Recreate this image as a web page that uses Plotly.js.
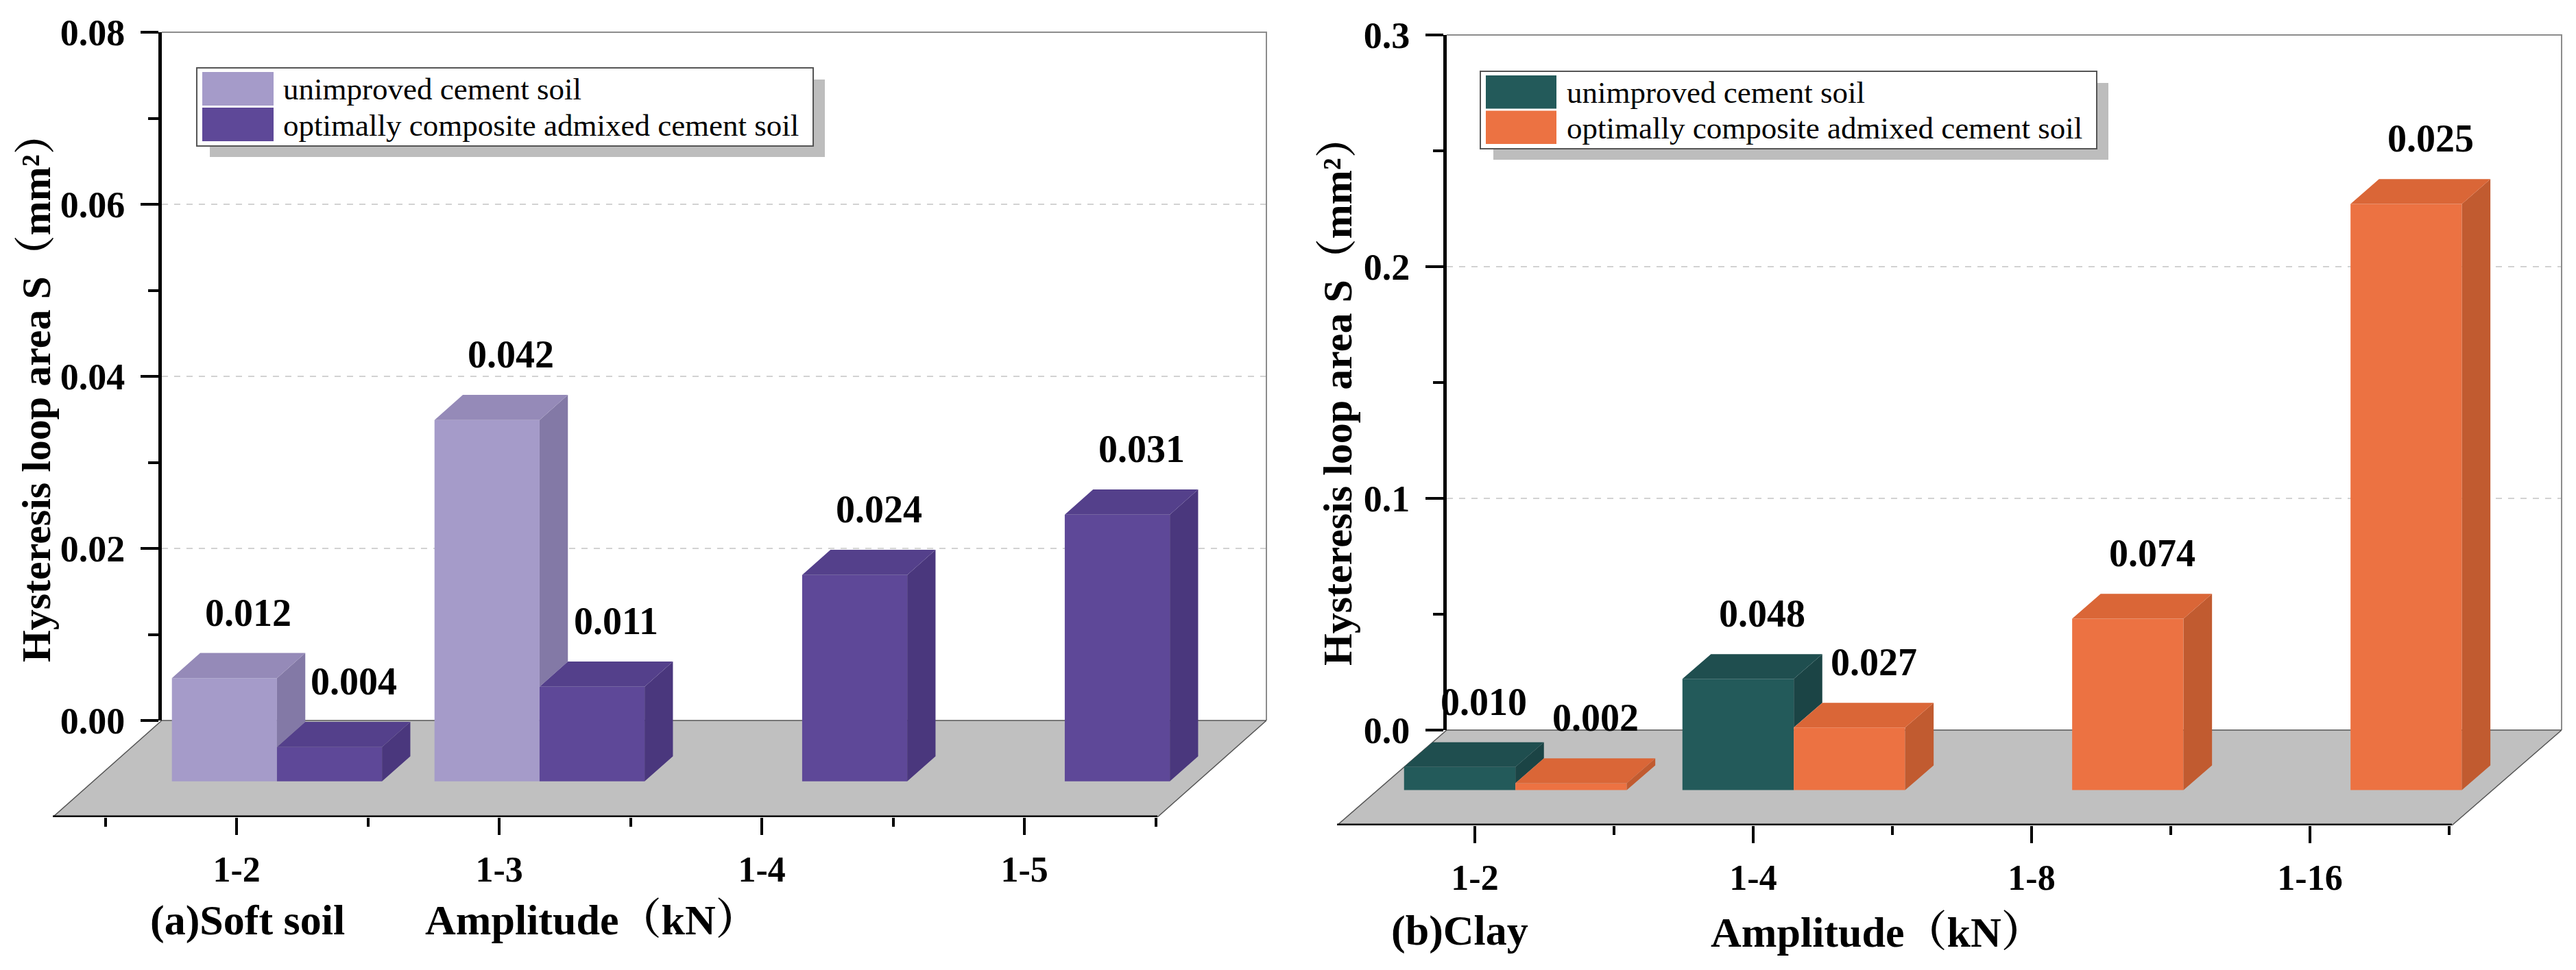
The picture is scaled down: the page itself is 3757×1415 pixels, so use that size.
<!DOCTYPE html>
<html><head><meta charset="utf-8">
<script src="https://cdn.plot.ly/plotly-3.0.1.min.js"></script>
<style>html,body{margin:0;padding:0;background:#fff}</style>
</head><body><div id="chart" style="width:3757px;height:1415px"></div>
<script>
// ---------------- data ----------------
const categoriesA = ['1-2', '1-3', '1-4', '1-5'];
const unimprovedA = [0.012, 0.042, null, null];
const optimalA = [0.004, 0.011, 0.024, 0.031];
const labelsUnimprovedA = ['0.012', '0.042', null, null];
const labelsOptimalA = ['0.004', '0.011', '0.024', '0.031'];

const categoriesB = ['1-2', '1-4', '1-8', '1-16'];
const unimprovedB = [0.010, 0.048, null, null];
const optimalB = [0.003, 0.027, 0.074, 0.253];
const labelsUnimprovedB = ['0.010', '0.048', null, null];
const labelsOptimalB = ['0.002', '0.027', '0.074', '0.025'];

const seriesNames = ['unimproved cement soil', 'optimally composite admixed cement soil'];
const yTickValsA = [0, 0.02, 0.04, 0.06, 0.08];
const yTickTextA = ['0.00', '0.02', '0.04', '0.06', '0.08'];
const yTickValsB = [0, 0.1, 0.2, 0.3];
const yTickTextB = ['0.0', '0.1', '0.2', '0.3'];
const panelTitles = ['(a)Soft soil', '(b)Clay'];
const xTitle = 'Amplitude（kN）';
const yTitle = 'Hysteresis loop area S（mm²）';

// ---------------- layout helpers ----------------
const W = 3757, H = 1415;
const FONT = '"Liberation Serif", "Times New Roman", "Noto Serif CJK SC", "Noto Sans CJK SC", serif';
const px = p => p / W, py = p => 1 - p / H;
const F0 = 0.37, F1 = 0.63, BARW = 0.4;

const panels = [
  {
    cats: categoriesA, vals: [unimprovedA, optimalA], labels: [labelsUnimprovedA, labelsOptimalA],
    yTickVals: yTickValsA, yTickText: yTickTextA, yMinor: 0.01, yMax: 0.08,
    colors: [{front: '#A59BC9', top: '#958AB8', side: '#8379A6'},
             {front: '#5E4898', top: '#54408B', side: '#4A377D'}],
    ax: ['x', 'y', 'x2', 'y2'], axn: ['xaxis', 'yaxis', 'xaxis2', 'yaxis2'],
    pxLeft: 77, pxRight: 1847, pxTop: 47, pxFront: 1192, pxBack: 1051, unitPx: 383,
    xLeft: -0.70, depthX: 0.415,
    legend: {x0: 287, x1: 1186, y0: 99, y1: 213, sw0: 295, sw1: 399, textX: 411},
    ytitle: {x: 53, y: 566}, plabel: {x: 361, y: 1342}, xtitle: {x: 863, y: 1342}
  },
  {
    cats: categoriesB, vals: [unimprovedB, optimalB], labels: [labelsUnimprovedB, labelsOptimalB],
    yTickVals: yTickValsB, yTickText: yTickTextB, yMinor: 0.05, yMax: 0.3,
    colors: [{front: '#235A5A', top: '#1F4E4F', side: '#1B4445'},
             {front: '#EC7242', top: '#DA6637', side: '#C15B30'}],
    ax: ['x3', 'y3', 'x4', 'y4'], axn: ['xaxis3', 'yaxis3', 'xaxis4', 'yaxis4'],
    pxLeft: 1950, pxRight: 3736, pxTop: 51, pxFront: 1204, pxBack: 1065, unitPx: 406,
    xLeft: -0.495, depthX: 0.394,
    legend: {x0: 2159, x1: 3058, y0: 104, y1: 217, sw0: 2167, sw1: 2270, textX: 2283},
    ytitle: {x: 1951, y: 571}, plabel: {x: 2129, y: 1357}, xtitle: {x: 2738, y: 1360}
  }
];

const traces = [], shapes = [], annotations = [];
const layout = {
  width: W, height: H, margin: {l: 0, r: 0, t: 0, b: 0},
  paper_bgcolor: '#ffffff', plot_bgcolor: 'rgba(0,0,0,0)',
  showlegend: false, barmode: 'overlay', font: {family: FONT, color: '#000'}
};

panels.forEach((P, pi) => {
  const [xa, ya, xa2, ya2] = P.ax;
  const [xn, yn, xn2, yn2] = P.axn;
  const DX = P.depthX;
  const DY = P.yMax * (P.pxFront - P.pxBack) / (P.pxBack - P.pxTop);
  const xRight = P.xLeft + (P.pxRight - P.pxLeft) / P.unitPx;
  const xFrontRight = xRight - DX;
  const pxBackLeft = P.pxLeft + DX * P.unitPx;
  const ddx = (F1 - F0) * DX, ddy = (F1 - F0) * DY;
  const base = -(1 - F0) * DY;
  const idx = P.cats.map((c, i) => i);

  layout[xn] = {
    domain: [px(P.pxLeft), px(P.pxRight)], range: [P.xLeft, xRight], anchor: ya,
    showline: false, showgrid: false, zeroline: false,
    tickmode: 'array', tickvals: idx, ticktext: P.cats,
    ticks: 'outside', ticklen: 25, tickwidth: 4, tickcolor: '#000',
    tickfont: {family: FONT, size: 52, color: '#000', weight: 'bold'}, ticklabelstandoff: 6,
    minor: {ticks: 'outside', ticklen: 13, tickwidth: 4, tickcolor: '#000', tickmode: 'linear', tick0: -0.5, dtick: 1, showgrid: false}
  };
  layout[yn] = {domain: [py(P.pxFront), py(P.pxTop)], range: [-DY, P.yMax], anchor: xa, visible: false};
  layout[xn2] = {domain: [px(pxBackLeft), px(P.pxRight)], range: [0, 1], anchor: ya2, visible: false};
  layout[yn2] = {
    domain: [py(P.pxBack), py(P.pxTop)], range: [0, P.yMax], anchor: xa2, side: 'left',
    showline: true, linecolor: '#000', linewidth: 5, showgrid: false, zeroline: false,
    tickmode: 'array', tickvals: P.yTickVals, ticktext: P.yTickText,
    ticks: 'outside', ticklen: 26, tickwidth: 4, tickcolor: '#000',
    tickfont: {family: FONT, size: 54, color: '#000', weight: 'bold'}, ticklabelstandoff: 12,
    minor: {ticks: 'outside', ticklen: 15, tickwidth: 4, tickcolor: '#000', tickmode: 'linear', tick0: P.yMinor, dtick: 2 * P.yMinor, showgrid: false}
  };

  // back plane grid + frame
  P.yTickVals.filter(v => v > 0 && v < P.yMax).forEach(v => {
    shapes.push({type: 'line', xref: 'paper', yref: ya2, x0: px(pxBackLeft), x1: px(P.pxRight), y0: v, y1: v,
      line: {color: '#d2d2d2', width: 2, dash: 'dash'}, layer: 'below'});
  });
  shapes.push({type: 'path', xref: 'paper', yref: 'paper', layer: 'below',
    path: `M ${px(pxBackLeft)},${py(P.pxTop)} L ${px(P.pxRight)},${py(P.pxTop)} L ${px(P.pxRight)},${py(P.pxBack)}`,
    line: {color: '#8c8c8c', width: 2}});
  // floor
  shapes.push({type: 'path', xref: xa, yref: ya, layer: 'below',
    path: `M ${P.xLeft},${-DY} L ${xFrontRight},${-DY} L ${xRight},0 L ${P.xLeft + DX},0 Z`,
    fillcolor: '#c0c0c0', line: {color: '#555555', width: 1.5}});
  // x axis line on floor front edge
  shapes.push({type: 'line', xref: xa, yref: ya, x0: P.xLeft, x1: xFrontRight, y0: -DY, y1: -DY,
    line: {color: '#000', width: 5}, layer: 'above'});

  // bars (front faces) + 3D top / side faces
  [0, 1].forEach(s => {
    const vals = P.vals[s];
    traces.push({type: 'bar', x: idx.map(i => i + F0 * DX), y: vals, base: base,
      width: BARW, offset: s === 0 ? -BARW : 0, name: seriesNames[s],
      marker: {color: P.colors[s].front, line: {width: 0}},
      xaxis: xa, yaxis: ya, hoverinfo: 'skip', showlegend: false});
    const topX = [], topY = [], sideX = [], sideY = [];
    vals.forEach((v, i) => {
      if (v === null || v === undefined) return;
      const xL = i + F0 * DX + (s === 0 ? -BARW : 0), xR = xL + BARW;
      const t = base + v;
      const nb = s === 0 ? P.vals[1][i] : null;
      const nbTop = (nb !== null && nb !== undefined) ? base + nb : null;
      if (nbTop !== null && nbTop >= t) {
        topX.push(xL, xR, xR, xL + ddx, xL, null);
        topY.push(t, t, t + ddy, t + ddy, t, null);
      } else {
        topX.push(xL, xR, xR + ddx, xL + ddx, xL, null);
        topY.push(t, t, t + ddy, t + ddy, t, null);
        const b = nbTop !== null ? Math.max(base, nbTop) : base;
        sideX.push(xR, xR, xR + ddx, xR + ddx, xR, null);
        sideY.push(b, t, t + ddy, b + ddy, b, null);
      }
      const lab = P.labels[s][i];
      if (lab) {
        annotations.push({xref: xa, yref: ya, x: (xL + xR) / 2 + 0.85 * ddx, y: t + ddy,
          xanchor: 'center', yanchor: 'bottom', yshift: 26, showarrow: false, text: lab,
          font: {family: FONT, size: 56, color: '#000', weight: 'bold'}});
      }
    });
    traces.push({type: 'scatter', mode: 'lines', x: sideX, y: sideY, fill: 'toself',
      fillcolor: P.colors[s].side, line: {width: 0, color: P.colors[s].side},
      xaxis: xa, yaxis: ya, hoverinfo: 'skip', showlegend: false});
    traces.push({type: 'scatter', mode: 'lines', x: topX, y: topY, fill: 'toself',
      fillcolor: P.colors[s].top, line: {width: 0, color: P.colors[s].top},
      xaxis: xa, yaxis: ya, hoverinfo: 'skip', showlegend: false});
  });

  // legend (box with shadow)
  const L = P.legend;
  shapes.push({type: 'rect', xref: 'paper', yref: 'paper', layer: 'above',
    x0: px(L.x0 + 19), x1: px(L.x1 + 17), y0: py(L.y0 + 17), y1: py(L.y1 + 16),
    fillcolor: '#bdbdbd', line: {width: 0}});
  shapes.push({type: 'rect', xref: 'paper', yref: 'paper', layer: 'above',
    x0: px(L.x0), x1: px(L.x1), y0: py(L.y0), y1: py(L.y1),
    fillcolor: '#ffffff', line: {color: '#555555', width: 2}});
  const rowH = (L.y1 - L.y0 - 12) / 2;
  [0, 1].forEach(s => {
    const r0 = L.y0 + 6 + s * (rowH + 1);
    shapes.push({type: 'rect', xref: 'paper', yref: 'paper', layer: 'above',
      x0: px(L.sw0), x1: px(L.sw1), y0: py(r0), y1: py(r0 + rowH - 2),
      fillcolor: P.colors[s].front, line: {width: 0}});
    annotations.push({xref: 'paper', yref: 'paper', x: px(L.textX), y: py(r0 + rowH / 2),
      xanchor: 'left', yanchor: 'middle', showarrow: false, text: seriesNames[s],
      font: {family: FONT, size: 45, color: '#000'}});
  });

  // titles
  annotations.push({xref: 'paper', yref: 'paper', x: px(P.ytitle.x), y: py(P.ytitle.y),
    xanchor: 'center', yanchor: 'middle', textangle: -90, showarrow: false, text: yTitle,
    font: {family: FONT, size: 60, color: '#000', weight: 'bold'}});
  annotations.push({xref: 'paper', yref: 'paper', x: px(P.plabel.x), y: py(P.plabel.y),
    xanchor: 'center', yanchor: 'middle', showarrow: false, text: panelTitles[pi],
    font: {family: FONT, size: 62, color: '#000', weight: 'bold'}});
  annotations.push({xref: 'paper', yref: 'paper', x: px(P.xtitle.x), y: py(P.xtitle.y),
    xanchor: 'center', yanchor: 'middle', showarrow: false, text: xTitle,
    font: {family: FONT, size: 62, color: '#000', weight: 'bold'}});
});

layout.shapes = shapes;
layout.annotations = annotations;
Plotly.newPlot('chart', traces, layout, {staticPlot: true, displayModeBar: false});
</script>
</body></html>
